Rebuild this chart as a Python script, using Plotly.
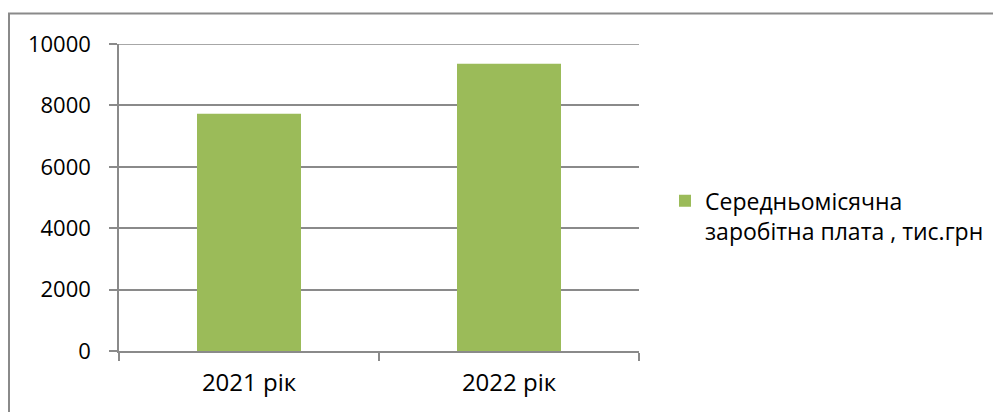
import plotly.graph_objects as go

categories = ["2021 рік", "2022 рік"]
values = [7730, 9360]
series_name = "Середньомісячна<br>заробітна плата , тис.грн"
y_ticks = [0, 2000, 4000, 6000, 8000, 10000]
y_tick_labels = ["0", "2000", "4000", "6000", "8000", "10000"]

W, H = 993, 412
L, R, T, B = 119, 354, 43.5, 61
pw, ph = W - L - R, H - T - B

def px_x(p):
    return (p - L) / pw

def px_y(p):
    return (H - B - p) / ph

FONT = "Open Sans"
GRID = "#8a8a8a"

fig = go.Figure()
fig.add_trace(go.Bar(
    x=categories, y=values, name=series_name,
    marker=dict(color="#9BBB59", line=dict(width=0)),
    showlegend=True,
))

fig.update_layout(
    width=W, height=H,
    margin=dict(l=L, r=R, t=T, b=B, pad=0, autoexpand=False),
    paper_bgcolor="white",
    plot_bgcolor="rgba(0,0,0,0)",
    bargap=0.6,
    font=dict(family=FONT, size=22, color="black"),
    showlegend=True,
    legend=dict(
        x=px_x(665), y=px_y(179), xanchor="left", yanchor="top",
        valign="top", bgcolor="rgba(0,0,0,0)",
        font=dict(family=FONT, size=23, color="black"),
    ),
    xaxis=dict(
        type="category", showgrid=False, zeroline=False,
        showline=True, linecolor=GRID, linewidth=1.5,
        ticks="outside", tickson="boundaries", ticklen=8, tickcolor=GRID, tickwidth=1.5,
        ticklabelstandoff=9, tickfont=dict(size=24),
    ),
    yaxis=dict(
        range=[0, 10000], tickvals=y_ticks, ticktext=y_tick_labels,
        showgrid=True, gridcolor=GRID, gridwidth=1.5,
        zeroline=False, showline=True, linecolor=GRID, linewidth=1.5,
        ticks="outside", ticklen=8, tickcolor=GRID, tickwidth=1.5,
        ticklabelstandoff=14,
    ),
    shapes=[
        dict(
            type="rect", xref="paper", yref="paper",
            x0=px_x(9), x1=px_x(1100), y0=px_y(500), y1=px_y(13),
            fillcolor="white", line=dict(color="#8a8a8a", width=2), layer="below",
        ),
        dict(
            type="line", xref="paper", yref="y",
            x0=0, x1=1, y0=y_ticks[-1], y1=y_ticks[-1],
            line=dict(color=GRID, width=1.5), layer="below",
        ),
    ],
)

fig.write_html("out.html")
